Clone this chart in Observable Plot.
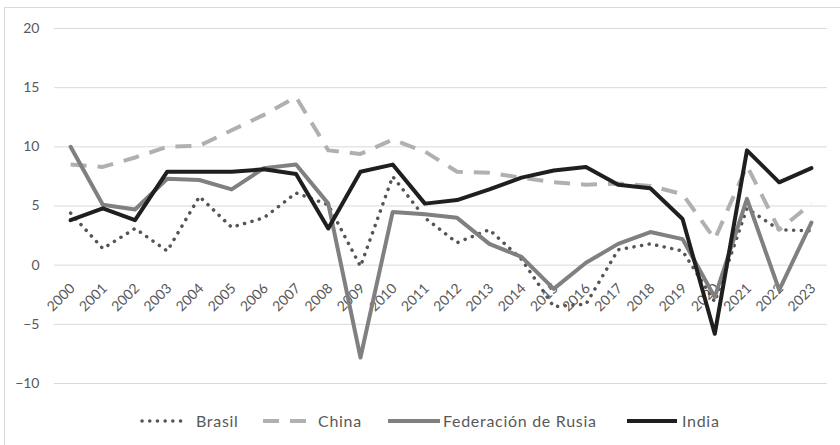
<!DOCTYPE html>
<html><head><meta charset="utf-8">
<script src="https://cdn.jsdelivr.net/npm/d3@7"></script>
<script src="https://cdn.jsdelivr.net/npm/@observablehq/plot@0.6"></script>
<style>
html,body{margin:0;padding:0;background:#fff;}
#chart{position:absolute;left:0;top:0;width:840px;height:445px;overflow:hidden;font-family:Lato,"Open Sans",sans-serif;}
#frame{position:absolute;left:4px;top:7px;width:900px;height:500px;border-left:1px solid #d9d9d9;border-top:1px solid #d9d9d9;}
#plot{position:absolute;left:0;top:0;}
#legend{position:absolute;left:0;top:411px;width:840px;height:20px;font-size:16px;letter-spacing:0.7px;color:#595959;}
.sample{position:absolute;top:5px;display:block;}
.label{position:absolute;top:0;line-height:20px;white-space:nowrap;}
</style></head><body>
<div id="chart"><div id="frame"></div><div id="plot"></div><div id="legend"></div></div>
<script>
const years = [2000,2001,2002,2003,2004,2005,2006,2007,2008,2009,2010,2011,2012,2013,2014,2015,2016,2017,2018,2019,2020,2021,2022,2023];
const brasil = [4.4,1.4,3.1,1.2,5.8,3.2,4.0,6.1,5.1,-0.1,7.5,4.0,1.9,3.0,0.5,-3.5,-3.3,1.3,1.8,1.2,-3.1,4.8,3.0,2.9];
const china  = [8.5,8.3,9.1,10.0,10.1,11.4,12.7,14.2,9.7,9.4,10.6,9.6,7.9,7.8,7.4,7.0,6.8,6.9,6.7,6.0,2.2,8.4,3.0,5.2];
const rusia  = [10.0,5.1,4.7,7.3,7.2,6.4,8.2,8.5,5.2,-7.8,4.5,4.3,4.0,1.8,0.7,-2.0,0.2,1.8,2.8,2.2,-2.7,5.6,-2.1,3.6];
const india  = [3.8,4.8,3.8,7.9,7.9,7.9,8.1,7.7,3.1,7.9,8.5,5.2,5.5,6.4,7.4,8.0,8.3,6.8,6.5,3.9,-5.8,9.7,7.0,8.2];
const seriesNames = ["Brasil","China","Federación de Rusia","India"];
const yTicks = [-10,-5,0,5,10,15,20];

const styles = {
  "Brasil": {stroke:"#555555", strokeWidth:3.5, strokeDasharray:"0.1 7.6", strokeLinecap:"round"},
  "China": {stroke:"#b0b0b0", strokeWidth:4, strokeDasharray:"16 11", strokeLinecap:"butt"},
  "Federación de Rusia": {stroke:"#808080", strokeWidth:4, strokeLinecap:"round"},
  "India": {stroke:"#1f1f1f", strokeWidth:4, strokeLinecap:"round"}
};
const valuesBy = {"Brasil":brasil,"China":china,"Federación de Rusia":rusia,"India":india};
const rows = seriesNames.flatMap(s => years.map((yr,i) => ({serie:s, year:yr, value:valuesBy[s][i]})));

const lines = seriesNames.map(s => Plot.line(rows.filter(d => d.serie === s), {
  x: "year", y: "value", strokeLinejoin: "round", ...styles[s]
}));

const chart = Plot.plot({
  width: 840, height: 400,
  marginLeft: 54, marginRight: 13, marginTop: 28, marginBottom: 17,
  style: {fontFamily: "Lato, 'Open Sans', sans-serif", color: "#595959", background: "transparent"},
  x: {domain: [1999.5, 2023.5], axis: null},
  y: {domain: [-10, 20], ticks: yTicks},
  marks: [
    Plot.ruleY(yTicks, {stroke: "#d9d9d9", strokeWidth: 1}),
    Plot.axisY({ticks: yTicks, tickSize: 0, tickPadding: 15, fontSize: 14, label: null}),
    Plot.text(years, {x: d => d, y: () => 0, text: d => String(d), rotate: -45, textAnchor: "end", dx: 2, dy: 21, fontSize: 14, fill: "#595959"}),
    ...lines
  ]
});
document.getElementById("plot").appendChild(chart);

// legend (HTML, below the plot area)
const legendPos = {"Brasil":[140,45,196],"China":[263,47,318],"Federación de Rusia":[388,52,443],"India":[627,50,682]};
const legend = document.getElementById("legend");
seriesNames.forEach(s => {
  const st = styles[s];
  const [sx, sw, tx] = legendPos[s];
  const x1 = s === "Brasil" ? 2 : 0;
  legend.insertAdjacentHTML("beforeend",
    `<svg class="sample" style="left:${sx}px" width="${sw}" height="10"><line x1="${x1}" x2="${sw - x1}" y1="5" y2="5" stroke="${st.stroke}" stroke-width="${st.strokeWidth}" stroke-linecap="${st.strokeLinecap}" ${st.strokeDasharray ? `stroke-dasharray="${st.strokeDasharray}"` : ""}/></svg><span class="label" style="left:${tx}px">${s}</span>`);
});
</script>
</body></html>
